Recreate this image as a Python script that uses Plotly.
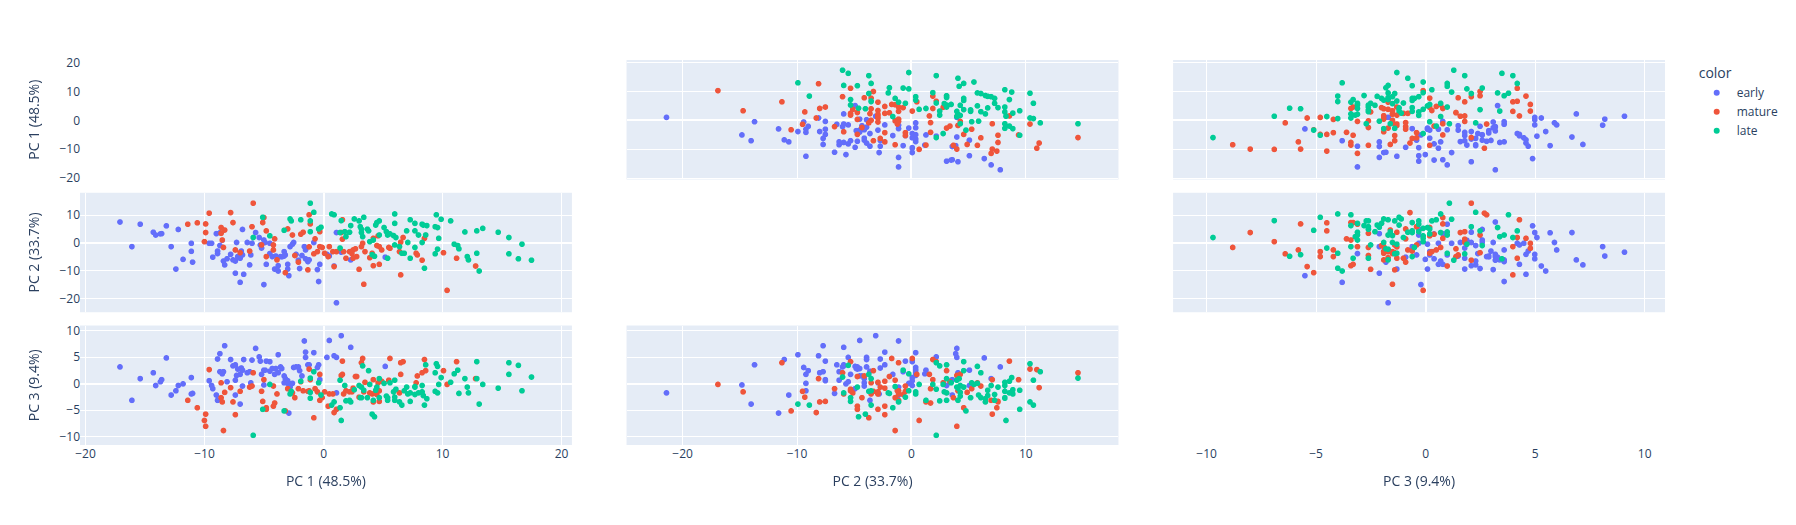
import pandas as pd
import plotly.express as px

categories = ["early", "mature", "late"]
dim_labels = ["PC 1 (48.5%)", "PC 2 (33.7%)", "PC 3 (9.4%)"]

early_pc1 = [-17.1, -16.1, -15.4, -14.3, -14.1, -13.7, -13.6, -13.2, -12.8, -12.4, -12.2, -11.8, -11.1, -11.1, -11.0,
             -9.6, -9.4, -9.3, -9.0, -8.9, -8.9, -8.7, -8.7, -8.5, -8.4, -8.3, -8.1, -7.8, -7.6, -7.4, -7.4, -7.4, -7.3,
             -7.2, -7.0, -7.0, -6.9, -6.8, -6.8, -6.7, -6.4, -6.2, -6.1, -6.0, -5.7, -5.4, -5.3, -5.2, -5.0, -5.0, -4.9,
             -4.8, -4.5, -4.5, -4.3, -4.1, -4.0, -3.8, -3.8, -3.6, -3.5, -3.3, -3.3, -3.2, -3.0, -3.0, -2.9, -2.8, -2.6,
             -2.5, -2.3, -2.1, -2.0, -1.8, -1.6, -1.5, -1.5, -1.3, -1.2, -0.8, -0.5, -0.4, -0.3, 0.3, 0.5, 0.9, 1.1, 1.5,
             2.3, 1.1, 5.2]
early_pc2 = [7.8, -1.1, 7.0, 4.1, 3.1, 3.5, 3.6, 6.4, -1.1, -9.2, 5.1, -5.7, 0.1, -2.8, -6.7,
             0.1, 0.1, -4.9, 3.6, -2.7, -3.6, 3.9, -0.7, 1.2, -6.3, -7.7, -5.5, -3.9, -5.9, -10.7, -6.3, -2.3, 0.4,
             -4.7, -5.3, -14.0, -2.7, 5.1, -4.1, -11.1, 0.4, -7.7, -4.1, 0.1, 4.0, 2.2, -0.5, -1.6, 1.3, -14.8, 0.4,
             -7.5, 0.1, -3.6, -4.7, -9.2, -4.5, -8.0, -9.9, -4.7, -4.8, -2.9, -4.5, -4.1, -7.5, -9.2, -11.6, -1.1, -0.2,
             0.4, -3.9, -6.0, -9.0, -4.3, -1.1, -2.3, -5.5, -6.5, -5.9, 0.4, -9.4, -13.7, -7.5, -3.9, -4.5, -8.1, 4.0, -3.1,
             -5.9, -21.4, -4.9]
early_pc3 = [3.2, -3.1, 1.0, 2.1, -0.3, 0.4, 0.8, 4.9, -2.1, -1.3, -0.3, 0.0, 1.2, -1.9, -1.8,
             0.6, -0.3, -0.9, -2.1, 4.7, -3.1, 5.7, 2.3, 1.9, 2.3, 7.2, 0.4, 4.6, 3.4, -2.1, 0.7, 3.6, 1.6,
             2.8, 1.8, -3.8, 3.0, 2.6, -0.4, 4.6, 2.1, 2.3, 0.2, 4.5, 6.7, 5.1, 4.3, 1.8, 2.6, -0.2, 2.6,
             4.3, 4.2, 2.4, 2.9, 1.8, 2.9, 2.1, 5.5, 3.2, 2.9, 0.2, 1.5, 1.0, 0.6, 0.1, -5.5, -0.6, 0.1,
             3.1, 3.2, 3.2, 2.5, 1.5, 8.1, 6.0, 5.0, 3.6, 3.6, 5.9, 3.1, 3.6, 0.8, 5.0, 8.2, 5.3, 5.0, 9.1,
             6.9, -1.7, 3.3]

mature_pc1 = [-11.4, -10.6, -10.0, -9.9, -9.9, -9.6, -8.6, -8.6, -8.5, -8.4, -8.3, -7.8, -7.6, -7.4, -7.0,
              -6.2, -6.0, -5.9, -5.2, -5.1, -5.0, -4.8, -4.8, -4.2, -4.2, -4.1, -3.9, -3.2, -3.0, -2.6, -2.4, -2.1,
              -1.9, -1.7, -1.3, -1.2, -1.2, -1.1, -0.8, -0.7, -0.5, -0.3, -0.3, -0.1, 0.1,
              0.4, 0.5, 0.8, 0.9, 1.1, 1.5, 1.6, 1.6, 1.7, 1.9, 2.2, 2.4, 2.5, 2.5, 2.7, 2.8, 3.0, 3.2, 3.3, 3.4,
              3.5, 3.9, 4.1, 4.2, 4.2, 4.5, 4.6, 4.7, 4.7, 4.9, 5.5, 5.6, 6.4, 6.5, 6.5, 6.7, 7.8, 7.9, 8.3, 8.5,
              8.6, 10.1, 10.4, 11.2, 12.8]
mature_pc2 = [7.0, 7.5, 0.7, 7.1, 4.0, 11.0, 5.8, 3.7, 1.3, -1.4, 4.9, 11.2, 7.6, -2.3, -3.3,
              -2.7, 6.1, 14.6, -0.5, 7.6, 9.4, 4.6, -4.7, -0.5, -2.3, 1.7, -5.9, -10.5, 5.3, 3.1, -4.3, -6.7,
              3.4, 4.1, -9.5, 10.4, -1.2, 7.1, -3.7, 1.7, -2.9, 4.3, -1.1, -1.4, -3.5,
              -4.7, -1.1, -2.9, -8.3, -2.9, 4.0, 1.6, 8.6, -2.9, -5.3, -2.9, -3.6, -2.3, -5.3, -1.9, -4.7, -9.3, -1.1,
              0.1, -14.7, -2.9, -5.1, -3.5, -8.0, 1.9, -0.7, 2.8, -7.5, -1.1, -2.3, -1.4, -1.7, -2.9, 0.5, -11.3,
              2.2, -3.5, -4.1, -6.0, 1.9, 3.1, -3.3, -16.9, -5.3, -8.1]
mature_pc3 = [-3.1, -4.5, -6.9, -5.7, -8.0, 2.7, 0.2, -2.6, -3.4, -8.8, -1.6, -0.7, -3.4, -5.8, -1.4,
              -0.6, -0.4, 2.1, -1.4, -3.3, 0.8, -4.5, -4.8, -0.4, -4.2, -3.6, -1.9, -5.1, -0.9, -1.7, -2.6, -0.9,
              0.4, -1.3, -1.4, 2.8, -1.3, 0.8, -6.4, -0.9, -1.5, 1.8, -3.1, -2.6, -1.5,
              -4.2, -1.9, -1.9, -5.4, -4.8, 1.6, 1.8, 4.3, -1.9, -1.3, -1.5, -1.5, -0.8, -1.0, 1.4, 1.4, -2.5, 4.0,
              4.8, -1.5, 0.3, -1.7, -1.9, -3.4, 0.8, -2.0, 0.2, -3.3, -1.3, 0.5, 0.7, 4.8, -1.7, 1.8, 4.0,
              4.2, 0.2, 1.5, 2.1, 4.6, 2.5, 2.5, -0.1, 4.2, 1.0]

late_pc1 = [-5.9, -5.1, -4.5, -3.3, -2.8, -2.7, -1.9, -1.1, -1.1, -1.1, -0.8, -0.4, -0.2,
            0.7, 0.9, 1.4, 1.4, 1.5, 1.8, 1.9, 2.2, 2.3, 2.6, 3.0, 3.1, 3.2, 3.2, 3.3, 3.4, 3.7, 3.8, 3.9, 4.1,
            4.2, 4.3, 4.4, 4.5, 4.7, 4.7, 5.1, 5.3, 5.4, 5.4, 5.6, 5.9, 6.0, 6.0, 6.0, 6.1, 6.4, 6.6, 6.8, 7.0,
            7.1, 7.3, 7.3, 7.7, 7.7, 7.7, 8.0, 8.3, 8.3, 8.4, 8.5, 8.6, 8.7,
            9.4, 9.4, 9.5, 9.6, 9.6, 9.7, 9.9, 10.7, 11.0, 11.3, 11.4, 11.9, 12.1, 12.2, 12.9, 12.9, 13.1, 13.4,
            14.7, 15.6, 15.6, 16.4, 16.7, 17.5]
late_pc2 = [2.2, 9.5, 2.8, 4.8, 8.9, 8.2, 8.6, 14.6, 8.2, 4.3, 11.3, 5.3, 5.9,
            10.7, 10.4, 4.0, -1.6, 8.3, 4.3, 2.5, 4.1, 6.5, 8.9, 8.2, 6.1, 5.2, 4.0, 2.5, 9.5, 5.2, 4.6, 0.7, -4.0,
            1.3, -4.6, 6.7, 7.6, 8.2, 3.1, 5.8, 4.3, 3.1, -5.3, 3.5, 2.9, 10.7, 7.3, -0.5, 2.2, -1.1, -3.5, -3.5, 4.6,
            0.4, 8.6, -5.3, 4.6, 7.3, -1.4, 3.1, 7.0, 0.4, 6.7, -8.9, 3.1, 6.5,
            6.1, -3.7, 10.4, 5.8, -2.0, 1.9, 8.8, 8.2, -0.2, -0.7, -1.9, 4.2, -4.7, -5.9, 4.6, -3.5, -9.9, 5.5,
            4.1, 2.2, -3.7, -5.5, -0.2, -6.0]
late_pc3 = [-9.7, -4.8, -0.1, -5.1, -1.9, -1.4, 0.5, 1.1, -2.7, -1.6, 2.3, 0.2, -2.1,
            -4.0, -3.4, 0.7, -4.5, -6.9, -0.3, -3.2, -3.1, -3.4, -1.1, -0.3, -2.6, -2.6, -0.6, 3.4, -1.2, -2.6, 2.5,
            -0.1, -5.7, -3.1, -6.2, -1.2, -0.6, -2.6, 1.0, 0.1, -2.3, -3.1, -2.6, 0.2, -1.5, 0.7, -3.1, -2.5, -1.0,
            -3.4, -4.0, -1.3, -0.6, -1.9, -1.7, -3.3, -0.6, -2.0, -0.5, -1.7, -0.3, -1.5, -2.2, -4.0, 3.6, -2.8,
            2.1, -1.4, 3.8, 3.3, -1.7, -0.1, 1.2, 0.3, 1.9, 2.6, -1.8, 1.0, -0.6, -1.7, 4.2, 1.0, -3.8, -0.1,
            -0.8, 4.0, 1.8, 3.5, -1.3, 1.3]

groups = [
    (categories[0], early_pc1, early_pc2, early_pc3),
    (categories[1], mature_pc1, mature_pc2, mature_pc3),
    (categories[2], late_pc1, late_pc2, late_pc3),
]
rows = []
for name, a, b, c in groups:
    for v1, v2, v3 in zip(a, b, c):
        rows.append({"0": v1, "1": v2, "2": v3, "color": name})
df = pd.DataFrame(rows)

fig = px.scatter_matrix(
    df,
    dimensions=["0", "1", "2"],
    color="color",
    labels={"0": dim_labels[0], "1": dim_labels[1], "2": dim_labels[2]},
    category_orders={"color": categories},
)
fig.update_traces(diagonal_visible=False)
fig.update_layout(width=1796, height=525)
fig.write_html("out.html")
